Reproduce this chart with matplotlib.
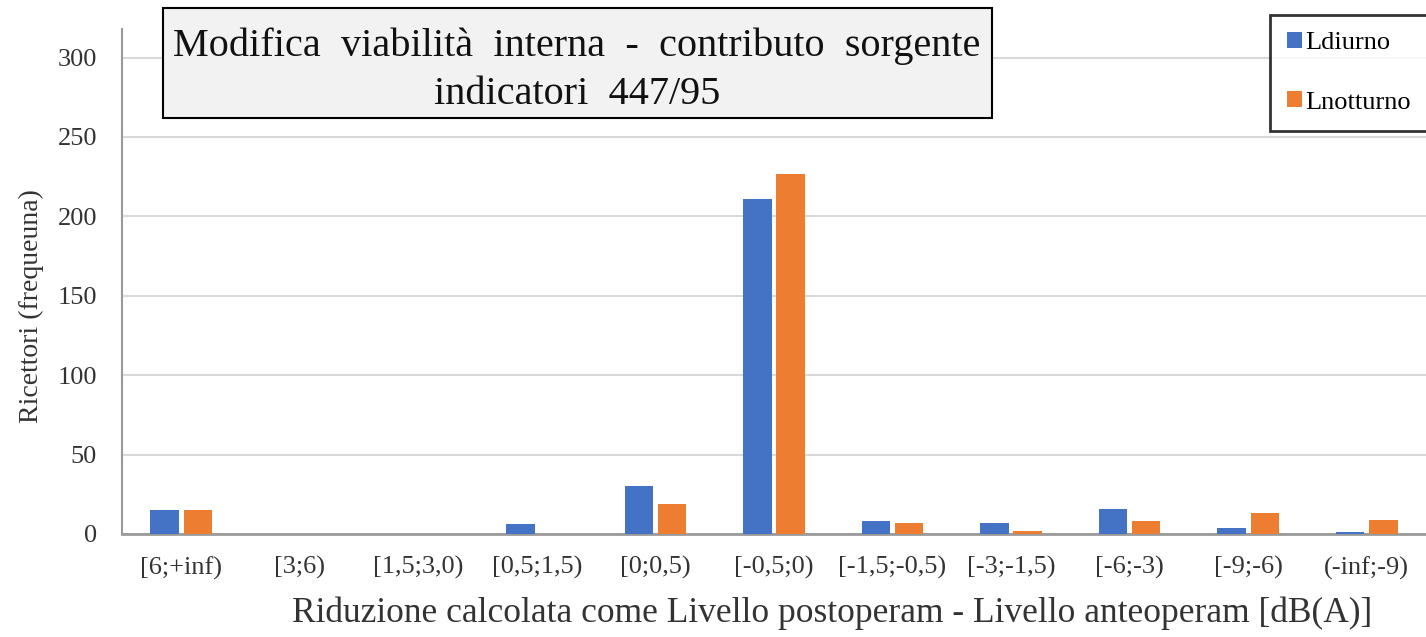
import matplotlib
matplotlib.use('Agg')
import matplotlib.pyplot as plt
import numpy as np

categories = ['[6;+inf)', '[3;6)', '[1,5;3,0)', '[0,5;1,5)', '[0;0,5)', '[-0,5;0)',
              '[-1,5;-0,5)', '[-3;-1,5)', '[-6;-3)', '[-9;-6)', '(-inf;-9)']
ldiurno = [15, 0, 0, 6, 30, 211, 8, 7, 16, 4, 1]
lnotturno = [15, 0, 0, 0, 19, 227, 7, 2, 8, 13, 9]

plt.rcParams['font.family'] = ['Liberation Serif', 'DejaVu Serif']
txt = '#333333'

fig = plt.figure(figsize=(14.26, 6.37), dpi=100)
ax = fig.add_axes([122 / 1426, 1 - 534 / 637, 1304 / 1426, 505 / 637])

x = np.arange(len(categories))
w = 0.24
ax.bar(x - 0.14, ldiurno, w, color='#4472C4', label='Ldiurno', zorder=3)
ax.bar(x + 0.14, lnotturno, w, color='#ED7D31', label='Lnotturno', zorder=3)

ax.set_xlim(-0.5, len(categories) - 0.5)
ax.set_ylim(0, 318)
ax.set_yticks(range(0, 301, 50))
ax.set_xticks(x)
ax.set_xticklabels(categories, fontsize=19)
ax.tick_params(axis='y', labelsize=19, length=0, pad=18, labelcolor=txt)
ax.tick_params(axis='x', length=0, pad=16, labelcolor=txt)
ax.grid(axis='y', color='#d9d9d9', linewidth=1.5, zorder=0)

for s in ['top', 'right']:
    ax.spines[s].set_visible(False)
ax.spines['left'].set_color('#9a9a9a')
ax.spines['bottom'].set_color('#9a9a9a')
ax.spines['left'].set_linewidth(1.5)
ax.spines['bottom'].set_linewidth(2)

ax.set_ylabel('Ricettori (frequeuna)', fontsize=20, color=txt)
ax.yaxis.set_label_coords(-78 / 1304, (534 - 306) / 505)
ax.set_xlabel('Riduzione calcolata come Livello postoperam - Livello anteoperam [dB(A)]',
              fontsize=25.5, color=txt)
ax.xaxis.set_label_coords((832 - 122) / 1304, -(596 - 534) / 505)

# title box
fig.patches.append(plt.Rectangle((163 / 1426, 1 - 118 / 637), 829 / 1426, 110 / 637,
                                 transform=fig.transFigure, facecolor='#f2f2f2',
                                 edgecolor='black', linewidth=1.5, zorder=5))
fig.text(577 / 1426, 1 - 46 / 637, 'Modifica  viabilità  interna  -  contributo  sorgente',
         fontsize=29, ha='center', va='center', zorder=6, color='#111111')
fig.text(577 / 1426, 1 - 94 / 637, 'indicatori  447/95',
         fontsize=29, ha='center', va='center', zorder=6, color='#111111')

leg = ax.legend(loc='upper left', bbox_to_anchor=(1270 / 1426, 1 - 15 / 637),
                bbox_transform=fig.transFigure, fontsize=19, frameon=True,
                fancybox=False, edgecolor='black', handlelength=0.55, handleheight=0.55,
                handletextpad=0.15, labelspacing=1.4, borderpad=0.65, borderaxespad=0)
leg.get_frame().set_linewidth(2)

fig.savefig('out.png', dpi=100, facecolor='white')
